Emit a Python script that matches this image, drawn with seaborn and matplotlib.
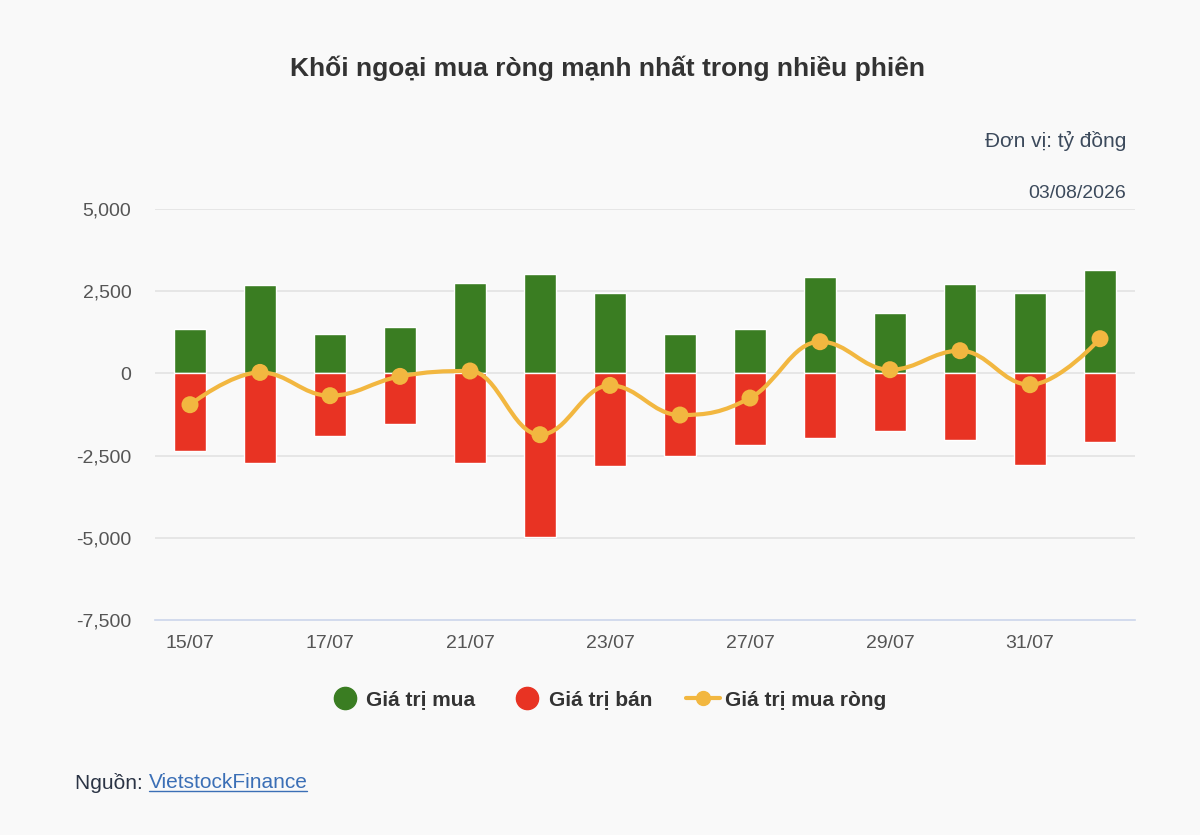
import numpy as np
import pandas as pd
import seaborn as sns
import matplotlib.pyplot as plt
from matplotlib.path import Path
from matplotlib.patches import PathPatch
from matplotlib.lines import Line2D

dates = ['15/07', '16/07', '17/07', '18/07', '21/07', '22/07', '23/07',
         '24/07', '27/07', '28/07', '29/07', '30/07', '31/07', '03/08']
buy = [1359, 2698, 1198, 1411, 2749, 3023, 2433, 1198, 1359, 2920, 1846, 2707, 2433, 3133]
sell = [-2351, -2716, -1916, -1530, -2716, -4976, -2828, -2513, -2189, -1966, -1764, -2027, -2777, -2077]
net = [-952, 30, -678, -91, 73, -1864, -365, -1266, -749, 964, 112, 690, -344, 1055]
yticks = [5000, 2500, 0, -2500, -5000, -7500]

c_buy = '#3a7d22'
c_sell = '#e83323'
c_net = '#f2b740'
bg = '#f9f9f9'

df = pd.DataFrame({'date': dates, 'buy': buy, 'sell': sell, 'net': net})

sns.set_style('white')
plt.rcParams['font.family'] = ['Liberation Sans', 'DejaVu Sans']

fig = plt.figure(figsize=(12, 8.35), dpi=100)
fig.patch.set_facecolor(bg)
ax = fig.add_axes([155 / 1200, 1 - 620 / 835, 980 / 1200, 411 / 835])
ax.set_facecolor(bg)

sns.barplot(data=df, x='date', y='buy', color=c_buy, width=0.46, saturation=1,
            edgecolor='white', linewidth=1, ax=ax, zorder=2)
sns.barplot(data=df, x='date', y='sell', color=c_sell, width=0.46, saturation=1,
            edgecolor='white', linewidth=1, ax=ax, zorder=2)


# highcharts-like spline through the net points
def spline_path(xs, ys, smoothing=1.5):
    n = len(xs)
    lc = [(xs[i], ys[i]) for i in range(n)]
    rc = [(xs[i], ys[i]) for i in range(n)]
    d = smoothing + 1
    for i in range(1, n - 1):
        px, py = xs[i], ys[i]
        lx, ly = xs[i - 1], ys[i - 1]
        nx, ny = xs[i + 1], ys[i + 1]
        lcx = (smoothing * px + lx) / d
        lcy = (smoothing * py + ly) / d
        rcx = (smoothing * px + nx) / d
        rcy = (smoothing * py + ny) / d
        corr = (rcy - lcy) * (rcx - px) / (rcx - lcx) + py - rcy
        lcy += corr
        rcy += corr
        if lcy > ly and lcy > py:
            lcy = max(ly, py)
            rcy = 2 * py - lcy
        elif lcy < ly and lcy < py:
            lcy = min(ly, py)
            rcy = 2 * py - lcy
        if rcy > ny and rcy > py:
            rcy = max(ny, py)
            lcy = 2 * py - rcy
        elif rcy < ny and rcy < py:
            rcy = min(ny, py)
            lcy = 2 * py - rcy
        lc[i] = (lcx, lcy)
        rc[i] = (rcx, rcy)
    verts = [(xs[0], ys[0])]
    codes = [Path.MOVETO]
    for i in range(1, n):
        verts += [rc[i - 1], lc[i], (xs[i], ys[i])]
        codes += [Path.CURVE4] * 3
    return Path(verts, codes)


xpos = np.arange(len(dates))
ax.add_patch(PathPatch(spline_path(xpos, net), facecolor='none', edgecolor=c_net,
                       linewidth=3, zorder=3, capstyle='round', joinstyle='round'))
sns.scatterplot(x=xpos, y=net, color=c_net, s=150, edgecolor='none', ax=ax, zorder=4)

ax.set_xlim(-0.5, len(dates) - 0.5)
ax.set_ylim(-7500, 5000)
ax.set_yticks(yticks)
ax.set_yticklabels([f'{v:,}' for v in yticks])
ax.set_xticks(xpos[::2])
ax.set_xticklabels(dates[::2])
ax.tick_params(axis='y', length=0, pad=17, labelsize=14, labelcolor='#555555')
ax.tick_params(axis='x', length=0, pad=11, labelsize=14, labelcolor='#555555')
ax.set_xlabel('')
ax.set_ylabel('')
for v in yticks[:-1]:
    ax.axhline(v, color='#e3e3e3', linewidth=1.2, zorder=1)
for s in ['top', 'right', 'left']:
    ax.spines[s].set_visible(False)
ax.spines['bottom'].set_color('#ccd6eb')
ax.spines['bottom'].set_linewidth(1.2)

fig.text(607 / 1200, 1 - 68 / 835, 'Khối ngoại mua ròng mạnh nhất trong nhiều phiên',
         ha='center', va='center', fontsize=19, fontweight='bold', color='#333333')
fig.text(1126 / 1200, 1 - 141 / 835, 'Đơn vị: tỷ đồng', ha='right', va='center',
         fontsize=15, color='#3c4a5c')
fig.text(1126 / 1200, 1 - 193 / 835, '03/08/2026', ha='right', va='center',
         fontsize=14, color='#3c4a5c')

handles = [
    Line2D([], [], marker='o', linestyle='none', markersize=16, color=c_buy),
    Line2D([], [], marker='o', linestyle='none', markersize=16, color=c_sell),
    Line2D([], [], marker='o', linestyle='-', linewidth=3, markersize=10, color=c_net),
]
fig.legend(handles, ['Giá trị mua', 'Giá trị bán', 'Giá trị mua ròng'], loc='center',
           bbox_to_anchor=(607 / 1200, 1 - 700 / 835), ncol=3, frameon=False,
           prop={'weight': 'bold', 'size': 15}, labelcolor='#333333',
           handlelength=1.6, columnspacing=1.65, handletextpad=0.25)

t1 = fig.text(75 / 1200, 1 - 783 / 835, 'Nguồn: ', ha='left', va='center',
              fontsize=15, color='#2b3445')
fig.canvas.draw()
r = fig.canvas.get_renderer()
bb = t1.get_window_extent(r)
x2 = bb.x1 / 1200
t2 = fig.text(x2, 1 - 783 / 835, 'VietstockFinance', ha='left', va='center',
              fontsize=15, color='#3b6fb6')
bb2 = t2.get_window_extent(r)
uy = (bb2.y0 + 2) / 835
fig.add_artist(Line2D([bb2.x0 / 1200, bb2.x1 / 1200], [uy, uy], color='#3b6fb6',
                      linewidth=1, transform=fig.transFigure))

fig.savefig('out.png', dpi=100, facecolor=bg)
